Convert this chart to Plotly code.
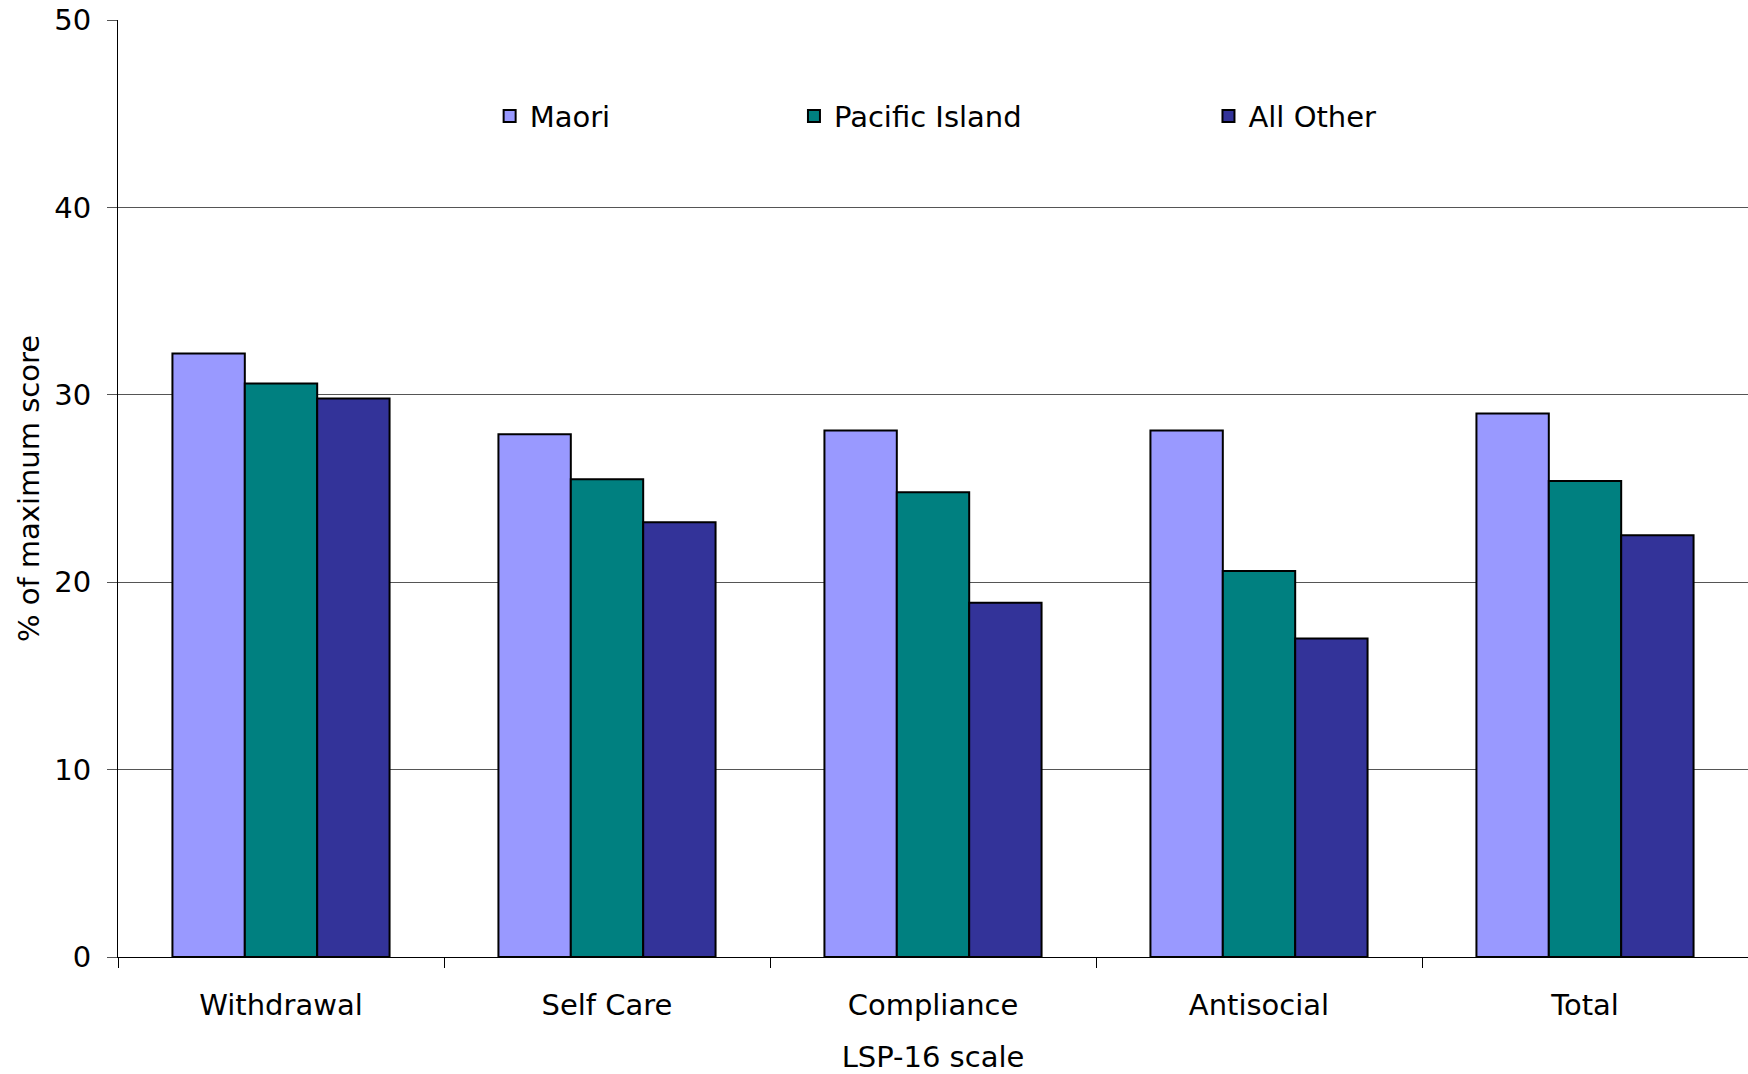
import plotly.graph_objects as go

categories = ["Withdrawal", "Self Care", "Compliance", "Antisocial", "Total"]
maori = [32.2, 27.9, 28.1, 28.1, 29.0]
pacific = [30.6, 25.5, 24.8, 20.6, 25.4]
all_other = [29.8, 23.2, 18.9, 17.0, 22.5]

series_names = ["Maori", "Pacific Island", "All Other"]
colors = ["#9999FF", "#008080", "#333399"]

FONT = "DejaVu Sans"
FS = 29

fig = go.Figure()
for name, vals, col, leg in zip(series_names, [maori, pacific, all_other], colors,
                                ["legend", "legend2", "legend3"]):
    fig.add_trace(go.Bar(
        x=categories, y=vals, name=name,
        marker=dict(color=col, line=dict(color="black", width=2)),
        legend=leg, showlegend=True,
    ))

leg_common = dict(orientation="h", yanchor="middle", y=0.8975, xanchor="left",
                  bgcolor="rgba(0,0,0,0)", borderwidth=0,
                  font=dict(family=FONT, size=FS, color="black"))

fig.update_layout(
    width=1748, height=1074,
    margin=dict(l=118, r=0, t=20, b=117),
    paper_bgcolor="white", plot_bgcolor="white",
    barmode="group", bargap=0.334, bargroupgap=0,
    showlegend=True,
    font=dict(family=FONT, size=FS, color="black"),
    legend=dict(x=0.228, **leg_common),
    legend2=dict(x=0.4147, **leg_common),
    legend3=dict(x=0.669, **leg_common),
    xaxis=dict(
        title=dict(text="LSP-16 scale", font=dict(family=FONT, size=FS), standoff=26),
        showline=True, linecolor="black", linewidth=1,
        ticks="outside", tickson="boundaries", ticklen=10, tickcolor="black",
        tickfont=dict(family=FONT, size=FS),
        ticklabelstandoff=22,
        showgrid=False,
    ),
    yaxis=dict(
        title=dict(text="% of maximum score", font=dict(family=FONT, size=FS), standoff=6),
        range=[0, 50], dtick=10, tick0=0,
        showline=True, linecolor="black", linewidth=1,
        ticks="outside", ticklen=10, tickcolor="#555555",
        tickfont=dict(family=FONT, size=FS),
        showgrid=True, gridcolor="#555555", gridwidth=1,
        zeroline=False,
        ticklabelstandoff=10,
    ),
)

fig.write_html("out.html")
